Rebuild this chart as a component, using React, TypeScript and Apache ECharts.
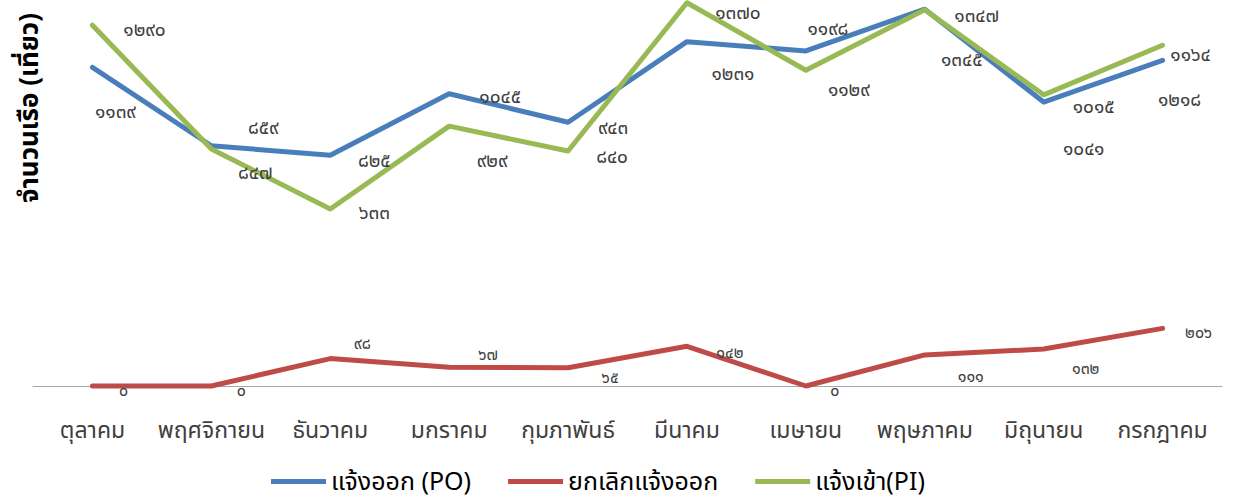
import React, { useEffect, useRef } from "react";
import * as echarts from "echarts";

const months = ["ตุลาคม", "พฤศจิกายน", "ธันวาคม", "มกราคม", "กุมภาพันธ์", "มีนาคม", "เมษายน", "พฤษภาคม", "มิถุนายน", "กรกฎาคม"];
const seriesNames = ["แจ้งออก (PO)", "ยกเลิกแจ้งออก", "แจ้งเข้า(PI)"];
const poValues = [1139, 859, 825, 1045, 943, 1231, 1198, 1347, 1015, 1164];
const cancelValues = [0, 0, 98, 67, 65, 142, 0, 111, 132, 206];
const piValues = [1290, 847, 633, 929, 840, 1370, 1129, 1345, 1041, 1218];
const yAxisTitle = "จำนวนเรือ (เที่ยว)";

// label offsets (layout only)
const poOffsets = [[23, 45], [52, -17], [44, 6], [51, 4], [45, 6], [46, 33], [22, -21], [52, 7], [50, 5], [28, -5]];
const cancelOffsets = [[31, 5], [30, 5], [32, -15], [39, -12], [42, 10], [43, 7], [29, 5], [46, 22], [42, 20], [36, 5]];
const piOffsets = [[52, 5], [44, 24], [44, 5], [43, 35], [44, 6], [51, 11], [43, 20], [37, 51], [40, 55], [17, 55]];

const thaiDigits = ["๐", "๑", "๒", "๓", "๔", "๕", "๖", "๗", "๘", "๙"];
const toThai = (n: number) => String(n).replace(/[0-9]/g, (d) => thaiDigits[Number(d)]);

const FONT = "Tahoma, 'Noto Sans Thai', 'Noto Sans', sans-serif";

function makeSeries(name: string, values: number[], offsets: number[][], color: string, fontSize: number) {
  return {
    name,
    type: "line",
    color,
    clip: false,
    symbol: "circle",
    symbolSize: 0,
    lineStyle: { width: 5, color, cap: "round", join: "round" },
    itemStyle: { color },
    label: {
      show: true,
      position: "inside",
      align: "center",
      verticalAlign: "middle",
      color: "#404040",
      fontFamily: FONT,
      fontSize,
      lineHeight: fontSize,
      formatter: (p: any) => toThai(p.value),
    },
    data: values.map((v, i) => ({ value: v, label: { offset: offsets[i] } })),
  };
}

export default function App() {
  const ref = useRef<HTMLDivElement>(null);
  useEffect(() => {
    if (!ref.current) return;
    const chart = echarts.init(ref.current, null, { renderer: "svg" });
    chart.setOption({
      animation: false,
      textStyle: { fontFamily: FONT },
      grid: { left: 33, right: 14, top: 0, bottom: 115, containLabel: false },
      legend: {
        top: 464,
        left: 266,
        itemWidth: 55,
        itemHeight: 5,
        itemGap: 37,
        icon: "rect",
        textStyle: { fontSize: 25, color: "#000", fontFamily: FONT },
        data: seriesNames,
      },
      xAxis: {
        type: "category",
        data: months,
        boundaryGap: true,
        axisLine: { show: true, lineStyle: { color: "#a6a6a6", width: 1 } },
        axisTick: { show: false },
        axisLabel: { color: "#404040", fontSize: 23, margin: 33, interval: 0, fontFamily: FONT },
      },
      yAxis: {
        type: "value",
        min: 0,
        max: 1380,
        show: false,
        splitLine: { show: false },
      },
      graphic: [
        {
          type: "text",
          x: 30,
          y: 108,
          rotation: Math.PI / 2,
          style: {
            text: yAxisTitle,
            fontSize: 26,
            fontWeight: "bold",
            fill: "#000",
            fontFamily: FONT,
            align: "center",
            verticalAlign: "middle",
          },
        },
      ],
      series: [
        makeSeries(seriesNames[0], poValues, poOffsets, "#4A7EBB", 19),
        makeSeries(seriesNames[1], cancelValues, cancelOffsets, "#BE4B48", 16),
        makeSeries(seriesNames[2], piValues, piOffsets, "#98B954", 19),
      ],
    });
    return () => chart.dispose();
  }, []);
  return <div ref={ref} style={{ position: "absolute", left: 0, top: 0, width: 1236, height: 501 }} />;
}
